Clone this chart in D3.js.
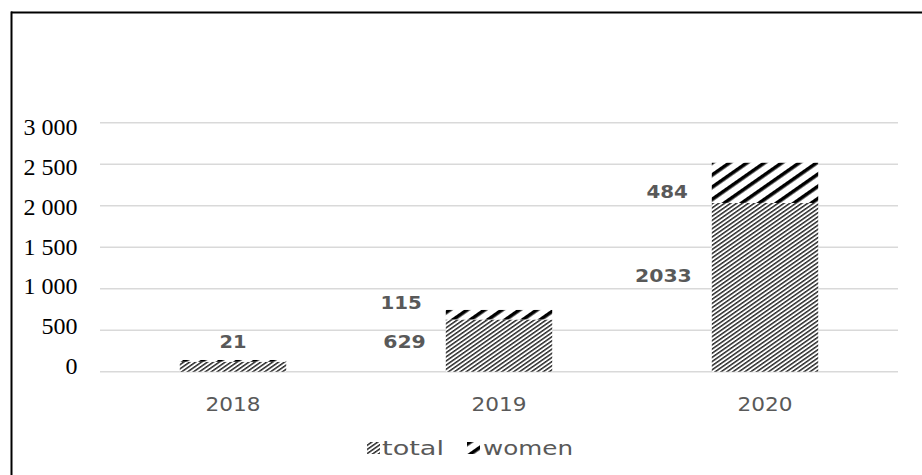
<!DOCTYPE html>
<html>
<head>
<meta charset="utf-8">
<script src="https://cdn.jsdelivr.net/npm/d3@7"></script>
<style>
  html, body { margin: 0; padding: 0; background: #fff; }
  svg { display: block; }
</style>
</head>
<body>
<div id="chart"></div>
<script>
// ---- data ----
const years = ["2018", "2019", "2020"];
const totalValues = [120, 629, 2033];
const womenValues = [21, 115, 484];
const totalLabels = [null, "629", "2033"];
const womenLabels = ["21", "115", "484"];
const yTicks = [0, 500, 1000, 1500, 2000, 2500, 3000];
const seriesNames = ["total", "women"];

// ---- layout ----
const W = 922, H = 475;
const svg = d3.select("#chart").append("svg").attr("width", W).attr("height", H);

const defs = svg.append("defs");
// total: dense thin diagonal hatch
const pTotal = defs.append("pattern").attr("id", "pTotal")
  .attr("patternUnits", "userSpaceOnUse").attr("width", 3.4).attr("height", 3.4)
  .attr("patternTransform", "rotate(-35)");
pTotal.append("rect").attr("width", 3.4).attr("height", 3.4).attr("fill", "#fff");
pTotal.append("rect").attr("y", 0).attr("width", 3.4).attr("height", 1.5).attr("fill", "#2a2a2a");
// women: thick black diagonal stripes
const pWomen = defs.append("pattern").attr("id", "pWomen")
  .attr("patternUnits", "userSpaceOnUse").attr("width", 10).attr("height", 10)
  .attr("patternTransform", "rotate(-35)");
pWomen.append("rect").attr("width", 10).attr("height", 10).attr("fill", "#fff");
pWomen.append("rect").attr("y", 0).attr("width", 10).attr("height", 3.6).attr("fill", "#000");

const fills = { total: "url(#pTotal)", women: "url(#pWomen)" };

// frame (top and left edges visible)
svg.append("line").attr("x1", 11).attr("x2", W).attr("y1", 12.5).attr("y2", 12.5)
  .attr("stroke", "#000").attr("stroke-width", 2);
svg.append("line").attr("x1", 11.5).attr("x2", 11.5).attr("y1", 11.5).attr("y2", H)
  .attr("stroke", "#000").attr("stroke-width", 2);

const x = d3.scaleBand().domain(years).range([100, 898]).paddingInner(0.6).paddingOuter(0.3);
const y = d3.scaleLinear().domain([0, 3000]).range([371.7, 122.7]);
const yLab = d3.scaleLinear().domain([0, 3000]).range([366, 126.7]);

// gridlines
svg.append("g").selectAll("line").data(yTicks).join("line")
  .attr("x1", 100).attr("x2", 898)
  .attr("y1", d => y(d)).attr("y2", d => y(d))
  .attr("stroke", "#d9d9d9").attr("stroke-width", 1.5);

// y tick labels
const fmt = v => d3.format(",")(v).replace(/,/g, " ");
svg.append("g").selectAll("text").data(yTicks).join("text")
  .attr("x", 77.5).attr("y", d => yLab(d))
  .attr("dy", "0.34em")
  .attr("text-anchor", "end")
  .attr("font-family", "'Liberation Serif', 'Times New Roman', serif")
  .attr("font-size", 24).attr("fill", "#000")
  .text(fmt);

// x labels
svg.append("g").selectAll("text").data(years).join("text")
  .attr("x", d => x(d) + x.bandwidth() / 2).attr("y", 404)
  .attr("dy", "0.36em")
  .attr("text-anchor", "middle")
  .attr("font-family", "'DejaVu Sans', sans-serif")
  .attr("font-size", 19).attr("fill", "#595959")
  .attr("textLength", 55).attr("lengthAdjust", "spacingAndGlyphs")
  .text(d => d);

// stacked bars
const rows = years.map((yr, i) => ({ year: yr, total: totalValues[i], women: womenValues[i], i }));
const stack = d3.stack().keys(seriesNames)(rows);
const gBars = svg.append("g");
stack.forEach(layer => {
  gBars.append("g").selectAll("rect").data(layer).join("rect")
    .attr("x", d => x(d.data.year))
    .attr("width", x.bandwidth())
    .attr("y", d => y(d[1]))
    .attr("height", d => y(d[0]) - y(d[1]))
    .attr("fill", fills[layer.key]);
});

// data labels
const labelStyle = sel => sel
  .attr("font-family", "'DejaVu Sans', sans-serif")
  .attr("font-weight", "bold")
  .attr("font-size", 17.5).attr("fill", "#595959")
  .attr("dy", "0.36em");
const gLab = svg.append("g");
rows.forEach((r, i) => {
  const left = x(r.year);
  const top = y(r.total + r.women);
  const segTop = y(r.total);
  const segH = segTop - top;
  if (totalLabels[i] != null) {
    gLab.append("text").call(labelStyle)
      .attr("x", left - 20).attr("y", y(r.total * 0.57))
      .attr("text-anchor", "end")
      .attr("textLength", totalLabels[i].length * 14.2).attr("lengthAdjust", "spacingAndGlyphs")
      .text(totalLabels[i]);
    const wy = segH < 20 ? top - 7 : (top + segTop) / 2 + 9;
    gLab.append("text").call(labelStyle)
      .attr("x", left - 24).attr("y", wy)
      .attr("text-anchor", "end")
      .attr("textLength", womenLabels[i].length * 13.8).attr("lengthAdjust", "spacingAndGlyphs")
      .text(womenLabels[i]);
  } else {
    gLab.append("text").call(labelStyle)
      .attr("x", left + x.bandwidth() / 2).attr("y", top - 18)
      .attr("text-anchor", "middle")
      .attr("textLength", womenLabels[i].length * 13.5).attr("lengthAdjust", "spacingAndGlyphs")
      .text(womenLabels[i]);
  }
});

// legend
const legendItems = [
  { key: "total", sx: 367, tx: 382, tw: 62 },
  { key: "women", sx: 467, tx: 483, tw: 90 }
];
const gLeg = svg.append("g");
legendItems.forEach(it => {
  gLeg.append("rect").attr("x", it.sx).attr("y", 442).attr("width", 13).attr("height", 12)
    .attr("fill", fills[it.key]);
  gLeg.append("text").attr("x", it.tx).attr("y", 448).attr("dy", "0.36em")
    .attr("font-family", "'DejaVu Sans', sans-serif")
    .attr("font-size", 19).attr("fill", "#595959")
    .attr("textLength", it.tw).attr("lengthAdjust", "spacingAndGlyphs")
    .text(it.key);
});
</script>
</body>
</html>
